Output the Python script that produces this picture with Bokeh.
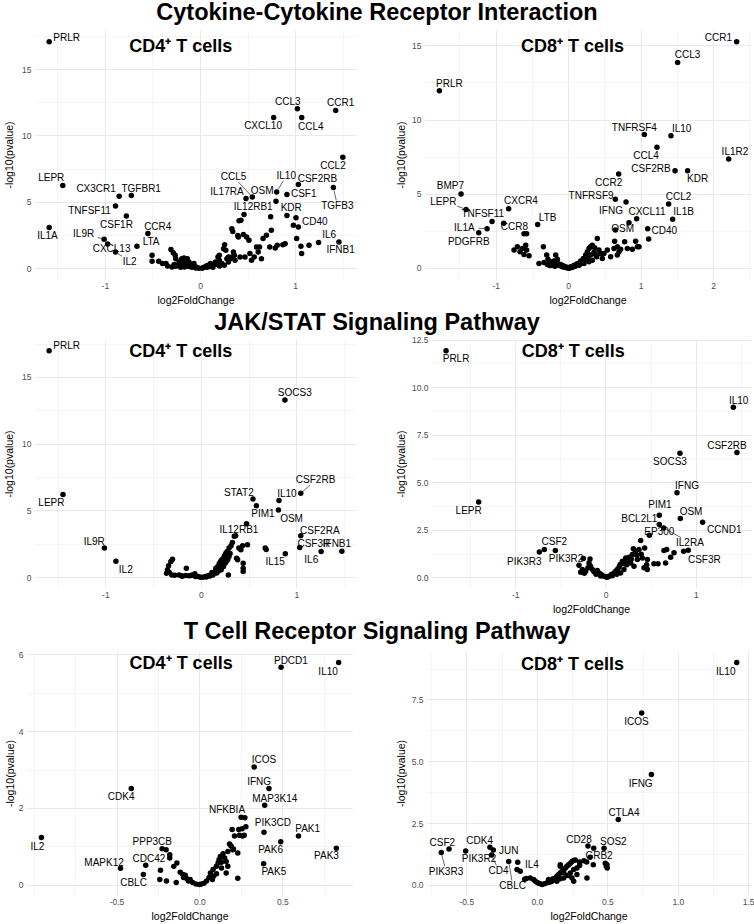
from bokeh.plotting import figure
from bokeh.models import Range1d, FixedTicker, ColumnDataSource, Label, Div
from bokeh.layouts import column, row
from bokeh.embed import file_html
from bokeh.resources import INLINE
from bokeh.core.properties import value

FONT = "Liberation Sans"

# ============================ DATA ============================
row_titles = ["Cytokine-Cytokine Receptor Interaction",
              "JAK/STAT Signaling Pathway",
              "T Cell Receptor Signaling Pathway"]
panel_titles = ["CD4\u207a T cells", "CD8\u207a T cells"]
x_title = "log2FoldChange"
y_title = "-log10(pvalue)"

# ---- Cytokine, CD4+ ----
cyt4_genes = ["PRLR", "LEPR", "IL1A", "CX3CR1", "TGFBR1", "TNFSF11", "CSF1R", "CCR4", "IL9R", "CXCL13",
              "IL2", "LTA", "CCL3", "CCR1", "CXCL10", "CCL4", "CCL2", "CSF2RB", "TGFB3", "IL10",
              "CSF1", "CCL5", "IL17RA", "OSM", "IL12RB1", "KDR", "CD40", "IL6", "IFNB1"]
cyt4_lfc = [-1.59, -1.447, -1.59, -0.855, -0.727, -0.893, -0.779, -0.553, -1.013, -0.976,
            -0.893, -0.668, 1.018, 1.42, 0.768, 1.063, 1.495, 1.028, 1.396, 0.80,
            0.908, 0.544, 0.478, 0.793, 0.457, 0.908, 1.028, 1.24, 1.454]
cyt4_nlp = [17.09, 6.26, 3.09, 5.45, 5.50, 4.72, 3.97, 2.64, 2.21, 1.86,
            1.25, 1.68, 12.04, 11.91, 11.39, 11.39, 8.39, 6.33, 6.11, 5.78,
            5.58, 5.40, 5.28, 5.08, 4.07, 4.00, 3.14, 1.96, 2.01]
cyt4_other = [(-0.509, 1.0), (-0.509, 0.55), (-0.44, 0.55), (-0.40, 0.38), (-0.363, 0.38), (-0.346, 0.2),
              (-0.311, 1.43), (-0.287, 1.2), (-0.266, 1.0), (-0.26, 0.75), (-0.225, 0.5), (-0.197, 0.75),
              (-0.173, 0.8), (-0.156, 0.63), (-0.138, 0.75), (-0.19, 0.38), (-0.242, 0.25), (-0.121, 0.5),
              (-0.104, 0.3), (-0.087, 0.2), (-0.059, 0.15), (-0.035, 0.08), (-0.017, 0.03), (-0.156, 0.25),
              (-0.208, 0.2), (-0.069, 0.38), (-0.277, 0.3), (-0.12, 0.15), (-0.09, 0.1), (-0.05, 0.05),
              (-0.14, 0.2), (-0.17, 0.12), (-0.21, 0.1), (-0.26, 0.18), (-0.30, 0.12),
              (0.017, 0.03), (0.052, 0.13), (0.08, 0.25), (0.104, 0.38), (0.121, 0.2), (0.156, 0.5),
              (0.173, 0.3), (0.183, 0.88), (0.197, 0.63), (0.225, 0.38), (0.242, 1.5), (0.253, 1.8),
              (0.266, 1.38), (0.277, 0.75), (0.294, 0.5), (0.311, 0.75), (0.329, 3.0), (0.339, 2.8),
              (0.346, 1.25), (0.356, 1.0), (0.363, 0.63), (0.391, 2.5), (0.398, 2.38), (0.415, 0.88),
              (0.405, 3.6), (0.425, 3.65), (0.467, 0.88), (0.484, 2.38), (0.509, 2.13), (0.519, 1.13),
              (0.536, 0.63), (0.564, 0.88), (0.588, 1.63), (0.606, 1.25), (0.62, 1.63), (0.64, 0.75),
              (0.657, 2.26), (0.692, 2.51), (0.727, 1.63), (0.737, 3.9), (0.744, 2.89), (0.785, 1.56),
              (0.806, 1.76), (0.865, 1.8), (0.889, 1.88), (0.976, 3.27), (1.003, 3.84), (1.01, 2.26),
              (1.055, 1.68), (1.062, 1.13), (1.14, 1.76), (0.45, 2.56), (0.329, 0.88), (0.197, 1.0),
              (0.294, 0.88), (0.03, 0.08), (0.07, 0.1), (0.10, 0.15), (0.13, 0.1), (0.06, 0.2),
              (0.20, 0.2), (0.25, 0.25), (0.14, 0.3)]

# ---- Cytokine, CD8+ ----
cyt8_genes = ["CCR1", "CCL3", "PRLR", "TNFRSF4", "IL10", "CCL4", "IL1R2", "CSF2RB", "KDR", "CCR2",
              "BMP7", "TNFRSF9", "IFNG", "CCL2", "LEPR", "CXCR4", "TNFSF11", "CXCL11", "IL1B", "CCR8",
              "LTB", "OSM", "IL1A", "CD40", "PDGFRB"]
cyt8_lfc = [2.317, 1.503, -1.784, 1.044, 1.411, 1.218, 2.207, 1.467, 1.641, 0.69,
            -1.485, 0.644, 0.791, 1.379, -1.416, -0.828, -1.057, 0.938, 1.434, -0.897,
            -0.428, 0.644, -1.126, 1.09, -1.241]
cyt8_nlp = [15.27, 13.88, 11.97, 9.02, 8.95, 8.17, 7.38, 6.59, 6.59, 6.37,
            5.02, 4.66, 4.48, 4.34, 3.98, 4.03, 3.17, 3.35, 3.31, 3.04,
            2.97, 2.59, 2.68, 2.68, 2.41]
cyt8_other = [(0.832, 3.08), (1.103, 1.98), (-0.616, 2.34), (-0.58, 2.34), (-0.754, 1.24), (-0.708, 1.46),
              (-0.671, 1.12), (-0.616, 0.94), (-0.593, 1.57), (-0.547, 0.85), (-0.58, 1.24), (-0.639, 1.35),
              (-0.41, 0.34), (-0.349, 1.46), (-0.303, 0.9), (-0.285, 0.63), (-0.248, 0.45), (-0.179, 0.9),
              (-0.156, 0.63), (-0.147, 0.34), (-0.11, 0.27), (-0.074, 0.18), (-0.041, 0.11), (-0.009, 0.05),
              (-0.225, 0.22), (-0.294, 0.27), (-0.34, 0.4), (-0.202, 0.5), (0.028, 0.11), (0.074, 0.22),
              (0.12, 0.34), (0.166, 0.5), (0.202, 0.67), (0.234, 0.9), (0.257, 1.12), (0.28, 1.35),
              (0.303, 1.46), (0.326, 1.57), (0.359, 1.39), (0.395, 2.02), (0.418, 1.24), (0.441, 1.01),
              (0.386, 0.79), (0.326, 0.56), (0.28, 0.45), (0.211, 0.34), (0.143, 0.22), (0.464, 0.67),
              (0.579, 0.79), (0.634, 1.84), (0.625, 1.35), (0.671, 1.46), (0.694, 1.12), (0.717, 1.3),
              (0.772, 1.8), (0.809, 1.35), (0.878, 1.3), (0.924, 1.84), (0.947, 1.46), (0.97, 1.46),
              (0.671, 0.9), (0.533, 1.24), (0.487, 1.01), (-0.13, 0.2), (-0.09, 0.12), (-0.06, 0.08),
              (-0.02, 0.03), (0.01, 0.02), (0.05, 0.06), (0.09, 0.15), (0.10, 0.25), (0.16, 0.3),
              (0.19, 0.45), (0.22, 0.55), (0.25, 0.7), (0.30, 0.9), (0.35, 1.1), (0.37, 0.95),
              (0.27, 0.6), (-0.19, 0.15), (-0.26, 0.2), (-0.20, 0.3)]

# ---- JAK/STAT, CD4+ ----
jak4_genes = ["PRLR", "SOCS3", "LEPR", "CSF2RB", "STAT2", "IL10", "PIM1", "OSM", "IL12RB1", "CSF2RA",
              "CSF3R", "IFNB1", "IL6", "IL15", "IL9R", "IL2"]
jak4_lfc = [-1.594, 0.874, -1.449, 1.04, 0.54, 0.812, 0.575, 0.806, 0.472, 1.04,
            1.029, 1.47, 1.253, 0.878, -1.015, -0.895]
jak4_nlp = [17.0, 13.32, 6.22, 6.32, 5.89, 5.77, 5.39, 5.07, 4.04, 3.14,
            2.26, 1.98, 1.96, 1.78, 2.21, 1.23]
jak4_other = [(0.668, 2.21), (0.678, 2.11), (-0.303, 1.38), (-0.32, 1.2), (-0.344, 0.88), (-0.355, 0.58),
              (-0.337, 0.38), (-0.31, 0.2), (-0.365, 0.33), (-0.234, 0.2), (-0.207, 0.13), (-0.158, 0.7),
              (-0.165, 0.15), (-0.131, 0.13), (-0.096, 0.2), (-0.069, 0.28), (-0.062, 0.08), (-0.034, 0.08),
              (-0.01, 0.03), (0.014, 0.03), (0.041, 0.08), (0.069, 0.13), (0.093, 0.2), (0.11, 0.38),
              (0.127, 0.33), (0.145, 0.45), (0.151, 0.7), (0.172, 0.83), (0.186, 1.03), (0.2, 1.2),
              (0.213, 1.33), (0.231, 1.45), (0.241, 1.63), (0.255, 1.83), (0.269, 1.96), (0.289, 1.58),
              (0.275, 1.33), (0.248, 1.08), (0.231, 0.83), (0.207, 0.58), (0.289, 2.21), (0.31, 2.38),
              (0.324, 2.63), (0.344, 3.09), (0.358, 3.14), (0.392, 2.21), (0.413, 2.08), (0.43, 2.38),
              (0.482, 2.46), (0.379, 1.33), (0.368, 1.45), (0.437, 1.08), (0.437, 0.7), (0.437, 0.45),
              (0.282, 0.2), (0.18, 0.5), (0.22, 0.95), (0.26, 1.2), (0.24, 1.4), (0.30, 1.8),
              (0.27, 1.55), (0.16, 0.35), (0.12, 0.2), (0.05, 0.05), (-0.20, 0.1), (-0.11, 0.15),
              (-0.28, 0.17), (0.09, 0.12)]

# ---- JAK/STAT, CD8+ ----
jak8_genes = ["PRLR", "IL10", "CSF2RB", "SOCS3", "IFNG", "LEPR", "PIM1", "OSM", "CCND1", "BCL2L1",
              "IL2RA", "EP300", "CSF3R", "CSF2", "PIK3R3", "PIK3R2"]
jak8_lfc = [-1.771, 1.41, 1.45, 0.819, 0.786, -1.41, 0.59, 0.823, 1.07, 0.59,
            0.638, 0.48, 0.86, -0.683, -0.738, -0.561]
jak8_nlp = [11.94, 8.97, 6.6, 6.55, 4.48, 3.99, 3.3, 3.13, 2.93, 2.81,
            2.63, 2.25, 1.4, 1.49, 1.37, 1.44]
jak8_other = [(0.911, 1.46), (-0.251, 1.02), (-0.177, 1.0), (-0.299, 0.67), (-0.262, 0.44), (-0.225, 0.35),
              (-0.188, 0.79), (-0.17, 0.61), (-0.2, 0.53), (-0.151, 0.44), (-0.133, 0.32), (-0.096, 0.39),
              (-0.077, 0.26), (-0.052, 0.18), (-0.022, 0.09), (0.007, 0.04), (0.033, 0.09), (0.059, 0.18),
              (0.089, 0.26), (0.107, 0.35), (0.125, 0.44), (0.144, 0.56), (0.155, 0.7), (0.181, 0.88),
              (0.218, 1.05), (0.236, 0.91), (0.255, 1.09), (0.273, 0.79), (0.292, 1.23), (0.303, 1.54),
              (0.328, 1.4), (0.347, 0.97), (0.365, 1.49), (0.384, 1.97), (0.402, 1.05), (0.428, 1.58),
              (0.45, 0.7), (0.458, 0.97), (0.531, 0.74), (0.576, 0.74), (0.642, 1.44), (0.672, 1.49),
              (0.753, 1.32), (0.716, 1.09), (0.66, 0.79), (0.421, 0.53), (0.458, 0.44), (0.162, 0.26),
              (0.199, 0.44), (0.31, 0.61), (-0.11, 0.2), (-0.06, 0.1), (0.02, 0.05), (0.07, 0.12),
              (0.12, 0.2), (0.23, 0.7), (0.26, 0.95), (0.20, 0.75), (0.34, 1.2), (0.39, 1.25),
              (0.28, 1.0), (-0.24, 0.25), (-0.28, 0.3)]

# ---- TCR, CD4+ ----
tcr4_genes = ["IL2", "CDK4", "PDCD1", "IL10", "ICOS", "IFNG", "MAP3K14", "NFKBIA", "PIK3CD", "PAK1",
              "PAK6", "PAK3", "PAK5", "PPP3CB", "MAPK12", "CDC42", "CBLC"]
tcr4_lfc = [-0.956, -0.414, 0.489, 0.836, 0.327, 0.416, 0.39, 0.248, 0.386, 0.594,
            0.487, 0.822, 0.384, -0.228, -0.479, -0.327, -0.341]
tcr4_nlp = [1.24, 2.52, 5.68, 5.8, 3.08, 2.52, 2.08, 1.77, 1.38, 1.28,
            1.13, 0.96, 0.56, 0.95, 0.44, 0.52, 0.28]
tcr4_other = [(0.271, 1.76), (-0.204, 0.92), (-0.182, 0.79), (-0.182, 0.71), (-0.158, 0.49), (-0.139, 0.58),
              (-0.238, 0.39), (-0.202, 0.11), (-0.242, 0.15), (-0.143, 0.07), (-0.119, 0.34), (-0.103, 0.28),
              (-0.099, 0.2), (-0.089, 0.26), (-0.079, 0.17), (-0.069, 0.11), (-0.059, 0.15), (-0.044, 0.07),
              (-0.024, 0.03), (-0.004, 0.02), (0.01, 0.03), (0.024, 0.05), (0.04, 0.11), (0.055, 0.2),
              (0.063, 0.32), (0.075, 0.15), (0.083, 0.24), (0.079, 0.41), (0.099, 0.49), (0.109, 0.58),
              (0.115, 0.66), (0.123, 0.75), (0.129, 0.6), (0.139, 0.82), (0.149, 0.71), (0.158, 0.62),
              (0.168, 0.88), (0.178, 1.07), (0.188, 1.02), (0.198, 0.92), (0.168, 0.49), (0.158, 0.32),
              (0.228, 0.18), (0.194, 1.45), (0.208, 1.28), (0.234, 1.45), (0.238, 1.3), (0.254, 1.47),
              (0.257, 1.28), (0.267, 1.3), (0.277, 1.52), (0.202, 0.94), (0.228, 0.84), (0.10, 0.3),
              (0.13, 0.45)]

# ---- TCR, CD8+ ----
tcr8_genes = ["IL10", "ICOS", "IFNG", "CTLA4", "CSF2", "PIK3R3", "CDK4", "PIK3R2", "CD4", "CBLC",
              "JUN", "IL4", "CD28", "SOS2", "GRB2"]
tcr8_lfc = [1.414, 0.74, 0.809, 0.574, -0.626, -0.681, -0.336, -0.508, -0.324, -0.203,
            -0.139, -0.121, 0.359, 0.473, 0.374]
tcr8_nlp = [9.01, 6.97, 4.48, 2.66, 1.47, 1.33, 1.54, 1.39, 1.23, 0.97,
            0.94, 0.57, 1.59, 1.5, 1.14]
tcr8_other = [(-0.312, 1.43), (-0.144, 0.64), (-0.05, 0.3), (-0.026, 0.24), (-0.014, 0.17), (0.002, 0.11),
              (0.017, 0.08), (0.033, 0.04), (0.05, 0.07), (0.069, 0.11), (0.087, 0.13), (0.104, 0.17),
              (0.116, 0.24), (0.128, 0.3), (0.139, 0.37), (0.151, 0.44), (0.163, 0.5), (0.175, 0.57),
              (0.187, 0.64), (0.199, 0.7), (0.21, 0.77), (0.222, 0.83), (0.234, 0.9), (0.246, 0.97),
              (0.258, 1.01), (0.27, 1.03), (0.163, 0.77), (0.139, 0.17), (0.163, 0.27), (0.187, 0.3),
              (0.21, 0.4), (0.234, 0.5), (0.258, 0.64), (0.281, 0.7), (0.30, 0.8), (0.281, 0.44),
              (0.246, 0.3), (0.222, 0.4), (0.111, 0.27), (0.08, 0.24), (0.187, 0.53), (0.352, 0.3),
              (0.258, 0.17), (0.40, 1.5), (0.397, 0.83), (0.482, 0.9), (0.489, 0.77), (0.494, 0.83),
              (0.496, 0.7), (0.163, 0.83), (-0.078, 0.28), (-0.09, 0.25), (0.33, 1.0), (0.35, 0.95),
              (0.30, 0.95)]

# ---- axis ticks ----
ticks_x = {
    "cyt4": ([-1, 0, 1], ["-1", "0", "1"], [-1.5, -0.5, 0.5, 1.5]),
    "cyt8": ([-1, 0, 1, 2], ["-1", "0", "1", "2"], [-1.5, -0.5, 0.5, 1.5, 2.5]),
    "jak4": ([-1, 0, 1], ["-1", "0", "1"], [-1.5, -0.5, 0.5, 1.5]),
    "jak8": ([-1, 0, 1], ["-1", "0", "1"], [-1.5, -0.5, 0.5, 1.5]),
    "tcr4": ([-0.5, 0.0, 0.5], ["-0.5", "0.0", "0.5"], [-1.0, -0.75, -0.25, 0.25, 0.75]),
    "tcr8": ([-0.5, 0.0, 0.5, 1.0, 1.5], ["-0.5", "0.0", "0.5", "1.0", "1.5"], [-0.75, -0.25, 0.25, 0.75, 1.25]),
}
ticks_y = {
    "cyt4": ([0, 5, 10, 15], ["0", "5", "10", "15"], [2.5, 7.5, 12.5, 17.5]),
    "cyt8": ([0, 5, 10, 15], ["0", "5", "10", "15"], [2.5, 7.5, 12.5]),
    "jak4": ([0, 5, 10, 15], ["0", "5", "10", "15"], [2.5, 7.5, 12.5, 17.5]),
    "jak8": ([0.0, 2.5, 5.0, 7.5, 10.0, 12.5], ["0.0", "2.5", "5.0", "7.5", "10.0", "12.5"],
             [1.25, 3.75, 6.25, 8.75, 11.25]),
    "tcr4": ([0, 2, 4, 6], ["0", "2", "4", "6"], [1, 3, 5]),
    "tcr8": ([0.0, 2.5, 5.0, 7.5], ["0.0", "2.5", "5.0", "7.5"], [1.25, 3.75, 6.25, 8.75]),
}

# ======================= LABEL PLACEMENT (screen px: dx, dy-down, leader) =======================
OFFSETS = {
    "cyt4": {"PRLR": (17.7, -4.3, 0), "LEPR": (-11.7, -7.7, 0), "IL1A": (-1.7, 8.3, 0), "CX3CR1": (-23.3, -7.7, 0),
             "TGFBR1": (10, -7, 0), "TNFSF11": (-26.3, 4.7, 0), "CSF1R": (-10, 8.3, 0), "CCR4": (10, -6.7, 0),
             "IL9R": (-20.7, -5.7, 1), "CXCL13": (4, 5, 0), "IL2": (14.3, 9.3, 1), "LTA": (14.3, -5, 0),
             "CCL3": (-9.7, -7.7, 0), "CCR1": (5, -7.7, 0), "CXCL10": (-10.7, 8.3, 0), "CCL4": (9.3, 8.7, 0),
             "CCL2": (-10, 8.7, 0), "CSF2RB": (19.3, -5.7, 0), "TGFB3": (4, 18, 1), "IL10": (9.7, -16, 1),
             "CSF1": (17, -1.3, 0), "CCL5": (-19, -20, 1), "IL17RA": (-19.3, -6.7, 0), "OSM": (-14, -11, 0),
             "IL12RB1": (9.3, -7.7, 0), "KDR": (4.3, -7.7, 0), "CD40": (16.7, -5.7, 0), "IL6": (10.7, -8, 0),
             "IFNB1": (1.7, 7.7, 0)},
    "cyt8": {"CCR1": (-18.3, -4.7, 0), "CCL3": (10, -7.7, 0), "PRLR": (10, -7.7, 0), "TNFRSF4": (-10, -7, 0),
             "IL10": (10.7, -7.3, 0), "CCL4": (-11, 8.3, 0), "IL1R2": (6.3, -7.3, 0), "CSF2RB": (-24, -1.7, 0),
             "KDR": (10, 8.3, 0), "CCR2": (-10, 8.7, 0), "BMP7": (-10.7, -8, 0), "TNFRSF9": (-24.3, -3.7, 0),
             "IFNG": (-15, 8.7, 0), "CCL2": (10, -7.3, 0), "LEPR": (-22.7, -8.3, 1), "CXCR4": (12.3, -7.7, 0),
             "TNFSF11": (-9.3, -8, 0), "CXCL11": (10.3, -7, 0), "IL1B": (11, -7.7, 0), "CCR8": (10.7, 3.3, 0),
             "LTB": (10, -6.7, 0), "OSM": (7.3, -2, 0), "IL1A": (-22.7, -1, 1), "CD40": (16.7, 2.3, 0),
             "PDGFRB": (-10, 8.3, 0)},
    "jak4": {"PRLR": (17.7, -5, 0), "SOCS3": (10, -7.3, 0), "LEPR": (-11.7, 8, 0), "CSF2RB": (15, -13.3, 1),
             "STAT2": (-14.3, -7, 0), "IL10": (8, -7, 0), "PIM1": (6.7, 8.3, 0), "OSM": (13.3, 8.7, 0),
             "IL12RB1": (-7.7, 6.3, 0), "CSF2RA": (19.3, -5.3, 0), "CSF3R": (14.3, -4, 0), "IFNB1": (-5, -7.7, 0),
             "IL6": (-10, 8.3, 0), "IL15": (-10.3, 7.7, 0), "IL9R": (-10.3, -6.7, 0), "IL2": (10, 8, 0)},
    "jak8": {"PRLR": (10, 7.3, 0), "IL10": (5.3, -7, 0), "CSF2RB": (-10, -7.3, 0), "SOCS3": (-10, 8.3, 0),
             "IFNG": (10, -7.3, 0), "LEPR": (-10, 8, 0), "PIM1": (0.7, -10.7, 0), "OSM": (10.7, -7.3, 0),
             "CCND1": (21.7, 7.7, 0), "BCL2L1": (-20, -5.7, 0), "IL2RA": (26.3, 14.7, 1), "EP300": (10, -3.3, 0),
             "CSF3R": (20.7, 7.7, 0), "CSF2": (10, -7.7, 0), "PIK3R3": (-15, 9.3, 0), "PIK3R2": (10.7, 8, 0)},
    "tcr4": {"IL2": (-4, 9, 0), "CDK4": (-10.3, 8.3, 0), "PDCD1": (10, -7.3, 0), "IL10": (-10.7, 9, 0),
             "ICOS": (10, -7.3, 0), "IFNG": (-10, -7.3, 0), "MAP3K14": (10.3, -7, 0), "NFKBIA": (-14.3, -7.7, 0),
             "PIK3CD": (9, -10, 0), "PAK1": (9.3, -7.7, 0), "PAK6": (-10.3, 7.7, 0), "PAK3": (-10, 7.7, 0),
             "PAK5": (10.3, 8.3, 0), "PPP3CB": (-10, -7, 0), "MAPK12": (-16.7, -6.3, 0), "CDC42": (3.3, -7.3, 0),
             "CBLC": (-10, 8, 0)},
    "tcr8": {"IL10": (-11, 9, 0), "ICOS": (-5.3, 8.7, 0), "IFNG": (-10.7, 9, 0), "CTLA4": (5.7, -7.3, 0),
             "CSF2": (-6.7, -7, 0), "PIK3R3": (4.7, 19, 1), "CDK4": (-10.3, -7.3, 0), "PIK3R2": (13.3, 7.3, 0),
             "CD4": (7, 15.7, 1), "CBLC": (4, 24.5, 1), "JUN": (-9, -11.7, 0), "IL4": (11.7, -6.7, 0),
             "CD28": (-9, -7, 0), "SOS2": (9.3, -6.7, 0), "GRB2": (9, -1.3, 0)},
}

# panel layout: figure size, borders (px), title centre (px from fig left / top), show x title
LAYOUT = {
    "cyt4": dict(w=377, h=281, bl=30, br=20, bt=2, bb=30, tx=178, ty=17, xl=True, ls=3, als=4),
    "cyt8": dict(w=377, h=281, bl=47, br=3, bt=2, bb=30, tx=195, ty=17, xl=True, ls=3, als=2),
    "jak4": dict(w=377, h=284, bl=30, br=21, bt=4, bb=31, tx=178, ty=15, xl=False, ls=3, als=4),
    "jak8": dict(w=377, h=284, bl=54, br=3, bt=4, bb=31, tx=195.8, ty=15, xl=True, ls=3, als=2),
    "tcr4": dict(w=377, h=278, bl=21, br=24, bt=5, bb=24, tx=178, ty=17, xl=True, ls=3, als=0),
    "tcr8": dict(w=377, h=278, bl=49, br=3, bt=5, bb=24, tx=195, ty=18, xl=True, ls=3, als=2),
}

PANELS = {
    "cyt4": (cyt4_genes, cyt4_lfc, cyt4_nlp, cyt4_other, panel_titles[0]),
    "cyt8": (cyt8_genes, cyt8_lfc, cyt8_nlp, cyt8_other, panel_titles[1]),
    "jak4": (jak4_genes, jak4_lfc, jak4_nlp, jak4_other, panel_titles[0]),
    "jak8": (jak8_genes, jak8_lfc, jak8_nlp, jak8_other, panel_titles[1]),
    "tcr4": (tcr4_genes, tcr4_lfc, tcr4_nlp, tcr4_other, panel_titles[0]),
    "tcr8": (tcr8_genes, tcr8_lfc, tcr8_nlp, tcr8_other, panel_titles[1]),
}


def make_panel(key):
    genes, lfc, nlp, other, title = PANELS[key]
    L = LAYOUT[key]
    ox = [a for a, b in other]
    oy = [b for a, b in other]
    allx = list(lfc) + ox
    ally = list(nlp) + oy
    ex = 0.05 * (max(allx) - min(allx))
    ey = 0.05 * (max(ally) - min(ally))
    x0, x1 = min(allx) - ex, max(allx) + ex
    y0, y1 = min(ally) - ey, max(ally) + ey
    fw = L["w"] - L["bl"] - L["br"]
    fh = L["h"] - L["bt"] - L["bb"]
    sx = (x1 - x0) / fw
    sy = (y1 - y0) / fh

    p = figure(width=L["w"], height=L["h"], x_range=Range1d(x0, x1), y_range=Range1d(y0, y1),
               toolbar_location=None, output_backend="svg",
               min_border_left=L["bl"], min_border_right=L["br"],
               min_border_top=L["bt"], min_border_bottom=L["bb"])
    p.outline_line_color = None
    p.background_fill_color = "white"
    p.border_fill_color = "white"

    xt, xlab, xm = ticks_x[key]
    yt, ylab, ym = ticks_y[key]
    p.xaxis.ticker = FixedTicker(ticks=xt, minor_ticks=xm)
    p.yaxis.ticker = FixedTicker(ticks=yt, minor_ticks=ym)
    p.xaxis.major_label_overrides = {t: s for t, s in zip(xt, xlab)}
    p.yaxis.major_label_overrides = {t: s for t, s in zip(yt, ylab)}
    for ax in (p.xaxis, p.yaxis):
        ax.axis_line_color = None
        ax.major_tick_line_color = None
        ax.minor_tick_line_color = None
        ax.major_tick_out = 0
        ax.major_tick_in = 0
        ax.minor_tick_out = 0
        ax.minor_tick_in = 0
        ax.major_label_text_font = FONT
        ax.major_label_text_font_size = "8.5px"
        ax.major_label_text_color = "#4D4D4D"
        ax.axis_label_text_font = FONT
        ax.axis_label_text_font_size = "10.5px"
        ax.axis_label_text_font_style = "normal"
        ax.axis_label_text_color = "black"
    p.xaxis.major_label_standoff = 3
    p.xaxis.axis_label_standoff = 2
    p.yaxis.major_label_standoff = L["ls"]
    p.yaxis.axis_label_standoff = L["als"]
    p.yaxis.axis_label = y_title
    if L["xl"]:
        p.xaxis.axis_label = x_title
    for g in (p.xgrid, p.ygrid):
        g.grid_line_color = "#E6E6E6"
        g.grid_line_width = 0.9
        g.minor_grid_line_color = "#EEEEEE"
        g.minor_grid_line_width = 0.6

    # points
    p.scatter(ox, oy, size=5.5, fill_color="black", line_color=None)
    p.scatter(list(lfc), list(nlp), size=5.5, fill_color="black", line_color=None)

    # labels + leaders
    offs = OFFSETS[key]
    tx, ty, lx0, ly0, lx1, ly1 = [], [], [], [], [], []
    for g, x, y in zip(genes, lfc, nlp):
        dx, dy, lead = offs[g]
        tx.append(x + dx * sx)
        ty.append(y - dy * sy)
        if lead:
            hw = len(g) * 3.3 + 1.0
            hh = 5.0
            tcands = []
            if dx != 0:
                tcands.append(hw / abs(dx))
            if dy != 0:
                tcands.append(hh / abs(dy))
            t = min(tcands)
            if t < 1:
                ex_, ey_ = dx * (1 - t), dy * (1 - t)
                d = (dx ** 2 + dy ** 2) ** 0.5
                s0 = 3.0 / d
                lx0.append(x + dx * s0 * sx)
                ly0.append(y - dy * s0 * sy)
                lx1.append(x + ex_ * sx)
                ly1.append(y - ey_ * sy)
    if lx0:
        p.segment(lx0, ly0, lx1, ly1, line_color="black", line_width=0.6)
    src = ColumnDataSource(dict(x=tx, y=ty, t=list(genes)))
    p.text(x="x", y="y", text="t", source=src, text_font=value(FONT), text_font_size="10px",
           text_align="center", text_baseline="middle", text_color="black")

    # panel title
    p.add_layout(Label(x=x0 + (L["tx"] - L["bl"]) * sx, y=y1 - (L["ty"] - L["bt"]) * sy,
                       text=title, text_align="center", text_baseline="middle",
                       text_font=FONT, text_font_size="18px", text_font_style="bold",
                       text_color="black"))
    return p


def title_div(text, h, line_h):
    return Div(text=text, width=754, height=h, margin=(0, 0, 0, 0),
               styles={"font-family": "'Liberation Sans', Arial, sans-serif", "font-size": "23.5px",
                       "font-weight": "bold", "text-align": "center", "line-height": f"{line_h}px",
                       "color": "black", "width": "754px", "white-space": "nowrap", "overflow": "visible"})


layout = column(
    title_div(row_titles[0], 28, 24.5),
    row(make_panel("cyt4"), make_panel("cyt8")),
    title_div(row_titles[1], 26, 26.5),
    row(make_panel("jak4"), make_panel("jak8")),
    title_div(row_titles[2], 27, 25.5),
    row(make_panel("tcr4"), make_panel("tcr8")),
)

open("out.html", "w").write(file_html(layout, INLINE))
